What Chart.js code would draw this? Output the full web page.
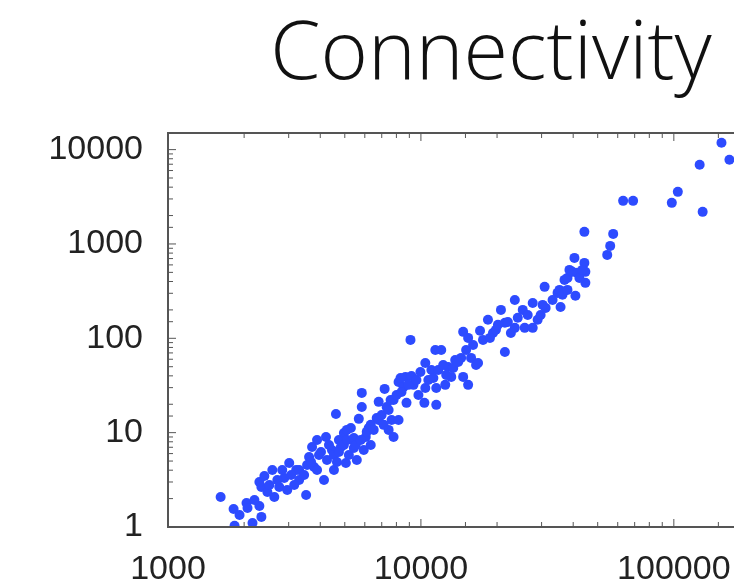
<!DOCTYPE html>
<html>
<head>
<meta charset="utf-8">
<script src="https://cdn.jsdelivr.net/npm/chart.js@4"></script>
<style>
  html, body { margin: 0; padding: 0; background: #fff; overflow: hidden; }
  #wrap { width: 982px; height: 583px; }
</style>
</head>
<body>
<div id="wrap"><canvas id="connChart" width="982" height="583"></canvas></div>
<script>
// node counts (x) vs connectivity (y)
const sizes = [
  1615, 1817, 1833, 2044, 2062, 2158, 2298, 2340, 2340, 2298, 2405, 2585, 2633, 2754, 2882, 2961,
  3015, 3212, 3300, 3516, 3548, 3613, 3780, 3884, 4214, 4138, 3712, 3955, 4252, 4449, 4613, 4740,
  4826, 4959, 5050, 4531, 5189, 5284, 5333, 5096, 5430, 5681, 5837, 5837, 6052, 6218, 5579, 5943,
  6332, 6685, 6808, 7187, 7318, 7452, 7656, 7796, 7796, 8157, 8157, 8535, 8690, 8306, 8770, 9093,
  9175, 9344, 9775, 10410, 10410, 10320, 11000, 11400, 12030, 11500, 11500, 12480, 12820, 13180,
  13660, 14420, 14690, 15370, 14690, 15370, 15790, 16520, 17130, 16820, 18410, 19270, 20720, 21480,
  21480, 22070, 22680, 23510, 23510, 25270, 25730, 27670, 27670, 28940, 29740, 30840, 31120, 34690,
  35320, 35650, 36960, 37970, 38660, 39720, 40460, 40820, 41570, 44290, 44290, 44690, 44690, 54530,
  56030, 57570, 63020, 69020, 98170, 103700, 126500, 130000, 154300, 165900,
  3300, 3453, 3679, 3884, 4027, 4330, 4531, 4740, 4959, 4655, 5096, 5430, 5529, 5784, 6106, 6332,
  6506, 6808, 6994, 7122, 7452, 7588, 8011, 8381, 8930, 9601, 9954, 10700, 11200, 11710, 12250,
  12590, 13420, 14040, 15090, 16080, 17600, 18750, 19800, 20160, 24150, 26440, 30290, 33150, 36290,
  37970, 42330, 43500, 1918, 2197, 2471, 2516, 2705, 2830, 3070, 3155
];
const connectivity = [
  2.08, 1.55, 1.03, 1.80, 1.59, 1.10, 1.67, 1.28, 2.66, 3.00, 3.47, 4.02, 2.08, 2.66, 3.31, 2.47,
  4.77, 4.02, 3.15, 2.18, 4.54, 5.53, 4.33, 8.37, 9.00, 3.15, 7.05, 5.80, 5.13, 6.56, 15.8, 8.37,
  7.05, 9.93, 4.77, 4.02, 5.80, 11.2, 8.37, 10.7, 6.88, 14.0, 26.4, 18.7, 9.00, 11.2, 5.13, 6.56,
  7.41, 14.3, 21.2, 29.1, 18.7, 10.7, 13.6, 9.00, 22.2, 34.5, 13.6, 30.5, 39.0, 38.0, 20.7, 96.2,
  39.9, 32.1, 25.1, 54.8, 29.8, 20.7, 46.2, 75.3, 75.3, 29.8, 19.7, 32.1, 49.7, 39.0,
  59.0, 62.0, 39.0, 32.1, 117, 101, 62.0, 52.2, 120, 54.8, 157, 114, 200, 146,
  71.7, 149, 114, 255, 129, 200, 129, 237, 129, 157, 177, 351, 210, 303,
  326, 215, 416, 437, 531, 506, 712, 282, 494, 630, 1344, 506, 387, 766,
  954, 1279, 2864, 2864, 2728, 3567, 6897, 2189, 11800, 7794,
  4.02, 3.56, 4.89, 4.02, 6.24, 7.41, 5.80, 6.24, 7.41, 4.89, 8.37, 8.79, 7.41, 8.37, 10.2, 12.1,
  10.7, 13.6, 15.4, 12.1, 17.4, 22.2, 25.1, 27.0, 32.1, 36.2, 44.0, 36.2, 38.0, 46.2, 52.2,
  40.9, 48.5, 56.2, 75.3, 85.1, 96.2, 101, 123, 139, 165, 177, 226, 255, 289,
  326, 437, 531, 1.34, 1.93, 2.35, 2.79, 3.15, 4.02, 3.56, 2.79
];
const xTickLabels = [1000, 10000, 100000];
const yTickLabels = [1, 10, 100, 1000, 10000];

const points = sizes.map((s, i) => ({ x: s, y: connectivity[i] }));

// frame + small inward tick marks like the original plot
const frameTicks = {
  id: 'frameTicks',
  afterDraw(chart) {
    const { ctx, chartArea: a, scales } = chart;
    ctx.save();
    ctx.strokeStyle = '#555';
    ctx.lineWidth = 2;
    ctx.strokeRect(a.left, a.top, a.right - a.left, a.bottom - a.top);
    ctx.lineWidth = 1;
    scales.x.ticks.forEach(t => {
      const px = scales.x.getPixelForValue(t.value);
      const len = xTickLabels.includes(t.value) ? 8 : 5;
      ctx.beginPath();
      ctx.moveTo(px, a.bottom); ctx.lineTo(px, a.bottom - len);
      ctx.moveTo(px, a.top); ctx.lineTo(px, a.top + len);
      ctx.stroke();
    });
    scales.y.ticks.forEach(t => {
      const py = scales.y.getPixelForValue(t.value);
      const len = yTickLabels.includes(t.value) ? 8 : 5;
      ctx.beginPath();
      ctx.moveTo(a.left, py); ctx.lineTo(a.left + len, py);
      ctx.moveTo(a.right, py); ctx.lineTo(a.right - len, py);
      ctx.stroke();
    });
    ctx.restore();
  }
};

const tickFont = { family: "'Liberation Sans', Arial, sans-serif", size: 34 };

new Chart(document.getElementById('connChart'), {
  type: 'scatter',
  data: {
    datasets: [{
      label: 'Connectivity',
      data: points,
      backgroundColor: '#2d4bff',
      borderWidth: 0,
      pointRadius: 5
    }]
  },
  options: {
    responsive: false,
    animation: false,
    layout: { padding: 0 },
    plugins: {
      legend: { display: false },
      tooltip: { enabled: false },
      title: {
        display: true,
        text: 'Connectivity',
        color: '#111',
        font: { family: "'Open Sans', sans-serif", size: 81, weight: 300, lineHeight: 1.2 },
        padding: { top: 7, bottom: 28.8 }
      }
    },
    scales: {
      x: {
        type: 'logarithmic',
        min: 1000,
        max: 1580000,
        grid: { display: false, drawTicks: false },
        border: { display: false },
        afterFit: s => { s.height = 56; s.paddingRight = 0; },
        ticks: {
          autoSkip: false,
          maxRotation: 0,
          padding: 22,
          color: '#222',
          font: tickFont,
          callback: v => xTickLabels.includes(v) ? String(v) : ''
        }
      },
      y: {
        type: 'logarithmic',
        min: 1,
        max: 15000,
        grid: { display: false, drawTicks: false },
        border: { display: false },
        afterFit: s => { s.width = 168; },
        ticks: {
          autoSkip: false,
          padding: 25,
          color: '#222',
          font: tickFont,
          callback: v => yTickLabels.includes(v) ? String(v) : ''
        }
      }
    }
  },
  plugins: [frameTicks]
});
</script>
</body>
</html>
